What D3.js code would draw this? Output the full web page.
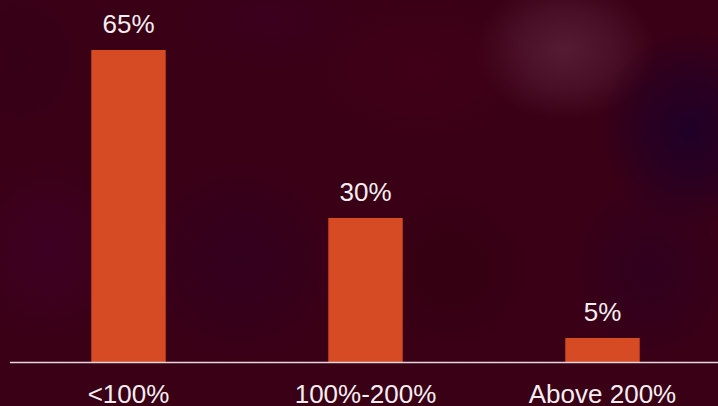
<!DOCTYPE html>
<html>
<head>
<meta charset="utf-8">
<script src="https://cdn.jsdelivr.net/npm/d3@7/dist/d3.min.js"></script>
<style>
  html, body { margin: 0; padding: 0; background: #3a0016; }
  svg { display: block; }
</style>
</head>
<body>
<div id="chart"></div>
<script>
// Share of cases by ratio band
const categories = ["<100%", "100%-200%", "Above 200%"];
const shares = [65, 30, 5];
const valueLabels = ["65%", "30%", "5%"];

const width = 718, height = 406;
const baseY = 362;

const svg = d3.select("#chart").append("svg")
  .attr("width", width)
  .attr("height", height);

const defs = svg.append("defs");

// Dark maroon backdrop with soft colour patches (radial fades)
svg.append("rect")
  .attr("width", width).attr("height", height)
  .attr("fill", "#3a0016");

const patches = [
  { cx: 565, cy: 50, rx: 90, ry: 70, color: "#5a2038", op: 0.85 },
  { cx: 690, cy: 130, rx: 90, ry: 100, color: "#1e0028", op: 0.95 },
  { cx: 650, cy: 270, rx: 80, ry: 90, color: "#2a0024", op: 0.6 },
  { cx: 50, cy: 250, rx: 80, ry: 90, color: "#400028", op: 0.7 },
  { cx: 240, cy: 260, rx: 100, ry: 100, color: "#300022", op: 0.7 },
  { cx: 450, cy: 270, rx: 80, ry: 80, color: "#30000e", op: 0.6 },
  { cx: 420, cy: 70, rx: 110, ry: 70, color: "#440018", op: 0.6 },
  { cx: 20, cy: 60, rx: 70, ry: 80, color: "#330018", op: 0.6 },
  { cx: 270, cy: 20, rx: 90, ry: 50, color: "#3a0022", op: 0.6 }
];
patches.forEach((p, i) => {
  const g = defs.append("radialGradient").attr("id", "patch" + i);
  g.append("stop").attr("offset", "0%").attr("stop-color", p.color).attr("stop-opacity", p.op);
  g.append("stop").attr("offset", "55%").attr("stop-color", p.color).attr("stop-opacity", p.op * 0.55);
  g.append("stop").attr("offset", "100%").attr("stop-color", p.color).attr("stop-opacity", 0);
});
svg.append("g")
  .selectAll("ellipse").data(patches).join("ellipse")
  .attr("cx", d => d.cx).attr("cy", d => d.cy)
  .attr("rx", d => d.rx).attr("ry", d => d.ry)
  .attr("fill", (d, i) => `url(#patch${i})`);

const x = d3.scaleBand()
  .domain(categories)
  .range([10, 721])
  .paddingInner(0.686)
  .paddingOuter(0.343);

const y = d3.scaleLinear()
  .domain([0, 65])
  .range([baseY, 50]);

// Bars
svg.append("g").selectAll("rect").data(categories).join("rect")
  .attr("x", d => x(d))
  .attr("y", (d, i) => y(shares[i]))
  .attr("width", x.bandwidth())
  .attr("height", (d, i) => baseY - y(shares[i]))
  .attr("fill", "#d64a24");

// Value labels above bars
svg.append("g").selectAll("text").data(categories).join("text")
  .attr("x", d => x(d) + x.bandwidth() / 2)
  .attr("y", (d, i) => y(shares[i]) - 17)
  .attr("text-anchor", "middle")
  .attr("font-family", "Liberation Sans, Arial, sans-serif")
  .attr("font-size", 26)
  .attr("fill", "#f4eef0")
  .text((d, i) => valueLabels[i]);

// Category axis along the baseline
const axis = svg.append("g")
  .attr("transform", `translate(0,${baseY})`)
  .call(d3.axisBottom(x).tickSize(0).tickPadding(0));
axis.select(".domain").remove();
axis.append("line")
  .attr("x1", 10).attr("x2", 718)
  .attr("y1", 0.5).attr("y2", 0.5)
  .attr("stroke", "#e2d6dc")
  .attr("stroke-width", 1.6);
axis.selectAll(".tick text")
  .attr("y", 41)
  .attr("dy", 0)
  .attr("font-family", "Liberation Sans, Arial, sans-serif")
  .attr("font-size", 26)
  .attr("fill", "#f4eef0");
</script>
</body>
</html>
